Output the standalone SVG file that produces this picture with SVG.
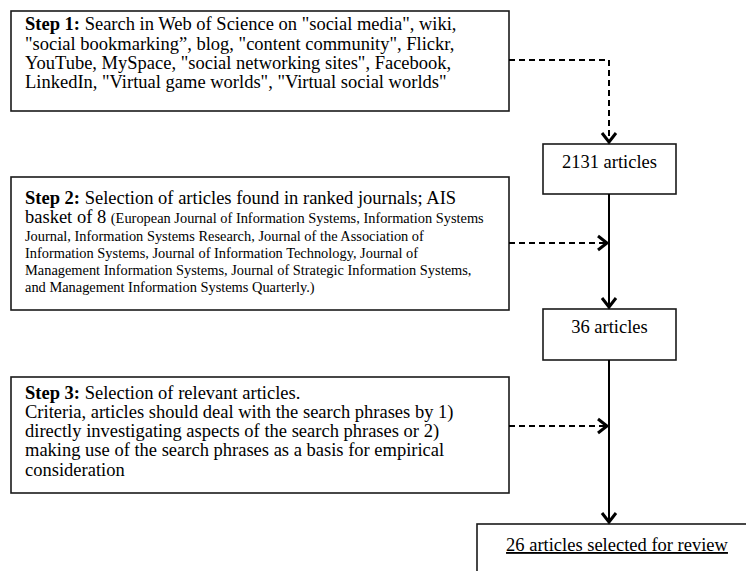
<svg xmlns="http://www.w3.org/2000/svg" width="746" height="571" viewBox="0 0 746 571">
<defs>
<style>
.box{fill:#fff;stroke:#1a1a1a;stroke-width:1.6}
.t{font-family:"Liberation Serif","Times New Roman",serif;font-size:18.5px;fill:#000}
.s{font-size:14.4px}
.b{font-weight:bold}
.solid{fill:none;stroke:#000;stroke-width:2}
.dash{fill:none;stroke:#000;stroke-width:2;stroke-dasharray:6 4}
</style>
<marker id="chev" markerUnits="userSpaceOnUse" markerWidth="20" markerHeight="20" refX="10" refY="10" orient="auto" overflow="visible">
<path d="M1,3 L10,10 L1,17" fill="none" stroke="#000" stroke-width="3"/>
</marker>
</defs>
<rect width="746" height="571" fill="#fff"/>
<g id="step1">
<rect class="box" x="11" y="11" width="498" height="100"/>
<text class="t" x="25" y="30"><tspan class="b">Step 1:</tspan> Search in Web of Science on "social media", wiki,</text>
<text class="t" x="25" y="50">"social bookmarking”, blog, "content community", Flickr,</text>
<text class="t" x="25" y="69">YouTube, MySpace, "social networking sites", Facebook,</text>
<text class="t" x="25" y="88">LinkedIn, "Virtual game worlds", "Virtual social worlds"</text>
</g>
<g id="n2131">
<rect class="box" x="543" y="144" width="133" height="50"/>
<text class="t" x="609.5" y="168" text-anchor="middle">2131 articles</text>
</g>
<g id="step2">
<rect class="box" x="11" y="177" width="498" height="133"/>
<text class="t" x="25" y="204"><tspan class="b">Step 2:</tspan> Selection of articles found in ranked journals; AIS</text>
<text class="t" x="25" y="223">basket of 8 <tspan class="s">(European Journal of Information Systems, Information Systems</tspan></text>
<text class="t s" x="25" y="241">Journal, Information Systems Research, Journal of the Association of</text>
<text class="t s" x="25" y="258">Information Systems, Journal of Information Technology, Journal of</text>
<text class="t s" x="25" y="275">Management Information Systems, Journal of Strategic Information Systems,</text>
<text class="t s" x="25" y="292">and Management Information Systems Quarterly.)</text>
</g>
<g id="n36">
<rect class="box" x="543" y="309" width="133" height="51"/>
<text class="t" x="609.5" y="333" text-anchor="middle">36 articles</text>
</g>
<g id="step3">
<rect class="box" x="11" y="377" width="498" height="116"/>
<text class="t" x="25" y="399"><tspan class="b">Step 3:</tspan> Selection of relevant articles.</text>
<text class="t" x="25" y="418">Criteria, articles should deal with the search phrases by 1)</text>
<text class="t" x="25" y="437">directly investigating aspects of the search phrases or 2)</text>
<text class="t" x="25" y="456">making use of the search phrases as a basis for empirical</text>
<text class="t" x="25" y="476">consideration</text>
</g>
<g id="final">
<rect class="box" x="477" y="524" width="272" height="60"/>
<text class="t" x="617" y="551" text-anchor="middle" text-decoration="underline">26 articles selected for review</text>
</g>
<g id="connectors">
<path class="dash" d="M509,60 H609 V142" marker-end="url(#chev)"/>
<path class="solid" d="M609,194 V307" marker-end="url(#chev)"/>
<path class="dash" d="M509,243 H607" marker-end="url(#chev)"/>
<path class="solid" d="M609,360 V522" marker-end="url(#chev)"/>
<path class="dash" d="M509,426 H607" marker-end="url(#chev)"/>
</g>
</svg>
